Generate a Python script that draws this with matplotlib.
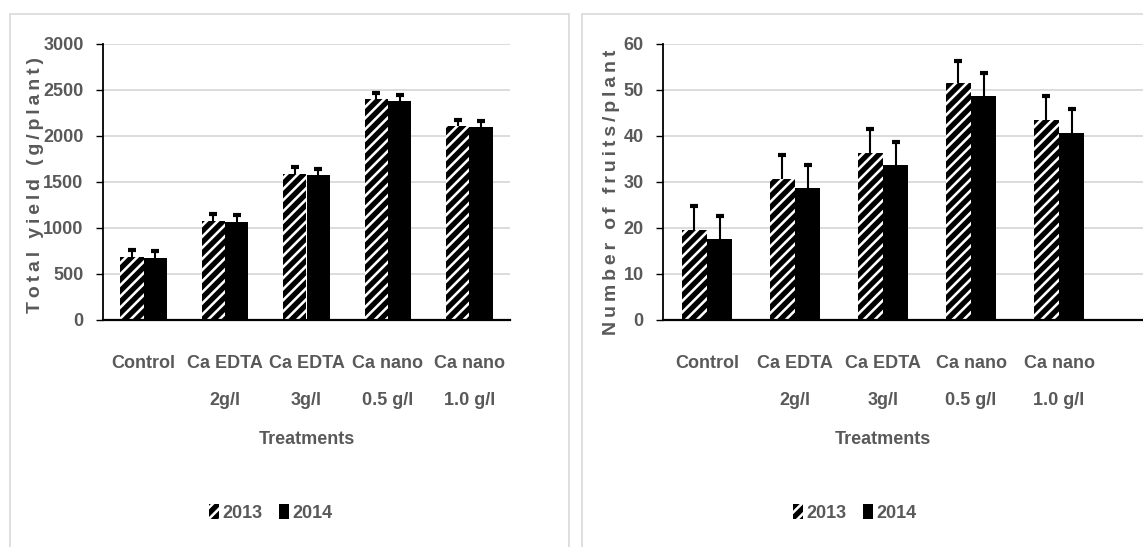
import matplotlib
matplotlib.use("Agg")
import matplotlib.pyplot as plt
from matplotlib.patches import Rectangle
import numpy as np

# Treatments and season values
treatments = ["Control", "Ca EDTA\n2g/l", "Ca EDTA\n3g/l", "Ca nano\n0.5 g/l", "Ca nano\n1.0 g/l"]
years = ["2013", "2014"]

yield_2013 = [690, 1080, 1590, 2400, 2105]
yield_2014 = [678, 1070, 1578, 2380, 2097]
yield_err_2013 = [75, 70, 70, 68, 72]
yield_err_2014 = [75, 72, 65, 68, 68]

fruits_2013 = [19.6, 30.6, 36.4, 51.5, 43.4]
fruits_2014 = [17.6, 28.6, 33.7, 48.7, 40.6]
fruits_err_2013 = [5.1, 5.2, 5.2, 4.9, 5.2]
fruits_err_2014 = [5.0, 5.1, 5.1, 5.1, 5.2]

TXT = "#595959"
GRID = "#d9d9d9"
FONT = ["Liberation Sans", "DejaVu Sans"]

plt.rcParams["font.family"] = FONT
plt.rcParams["font.weight"] = "bold"
plt.rcParams["hatch.linewidth"] = 3.8

W, H = 1143, 547
fig = plt.figure(figsize=(W / 100, H / 100), dpi=100)


def px_rect(x0, y0, x1, y1):
    return [x0 / W, 1 - y1 / H, (x1 - x0) / W, (y1 - y0) / H]


def spaced(s):
    # letter-spaced axis title: thin spaces between letters, wider gap between words
    return "\u2009 \u2009".join("\u2009".join(w) for w in s.split(" "))


# panel frames
for x0, x1 in [(10, 569), (582, 1160)]:
    fig.patches.append(Rectangle((x0 / W, -0.1), (x1 - x0) / W, 1 - 14 / H + 0.1,
                                 transform=fig.transFigure, fill=False,
                                 edgecolor=GRID, linewidth=1.2))


def panel(rect, v13, v14, e13, e14, ymax, ystep, ylabel, xmax, label_pos, legend_x):
    ax = fig.add_axes(rect)
    x = np.arange(len(treatments))
    bw = 0.2857
    v13 = np.asarray(v13)
    v14 = np.asarray(v14)
    e13 = np.asarray(e13)
    e14 = np.asarray(e14)
    ax.bar(x - bw / 2, v13, bw, color="white", edgecolor="black", hatch="///",
           linewidth=0, zorder=2, label=years[0])
    ax.bar(x + bw / 2, v14, bw, color="black", edgecolor="black",
           linewidth=0, zorder=2, label=years[1])
    # upper error bars with a cap on the top end only
    for xs, v, e in [(x - bw / 2, v13, e13), (x + bw / 2, v14, e14)]:
        ax.errorbar(xs, v, yerr=[np.zeros(len(xs)), e], fmt="none",
                    ecolor="black", elinewidth=1.5, capsize=0, zorder=3)
        ax.scatter(xs, v + e, marker="_", s=40, linewidths=3, color="black", zorder=3)

    ax.set_xlim(-0.5, xmax)
    ax.set_ylim(0, ymax)
    ax.set_yticks(np.arange(0, ymax + 1e-9, ystep))
    ax.yaxis.grid(True, color=GRID, linewidth=1.3, zorder=0)
    ax.set_axisbelow(True)
    for s in ["top", "right"]:
        ax.spines[s].set_visible(False)
    ax.spines["left"].set_linewidth(1.3)
    ax.spines["bottom"].set_linewidth(1.6)
    ax.spines["bottom"].set_zorder(4)

    ax.set_xticks(x)
    ax.set_xticklabels(treatments, fontsize=13, color=TXT, fontweight="bold",
                       linespacing=2.55, va="top")
    ax.tick_params(axis="x", length=0, pad=25)
    ax.tick_params(axis="y", length=5, width=1, color="black", pad=9,
                   labelsize=13, labelcolor=TXT)

    ax.text(2.0, -(440 - 320) / 276, "Treatments", transform=ax.get_xaxis_transform(),
            fontsize=13, color=TXT, fontweight="bold", ha="center", va="center")

    fig.text(label_pos[0] / W, 1 - label_pos[1] / H, spaced(ylabel), rotation=90,
             fontsize=14, color=TXT, fontweight="bold", ha="center", va="center")

    handles, labels = ax.get_legend_handles_labels()
    leg = fig.legend(handles, labels, loc="center", ncol=2, frameon=False,
                     bbox_to_anchor=(legend_x / W, 1 - 513 / H),
                     handlelength=0.55, handleheight=0.9, handletextpad=0.2,
                     columnspacing=0.9, prop={"size": 13, "weight": "bold"})
    for t in leg.get_texts():
        t.set_color(TXT)
    return ax


panel(px_rect(103, 44, 510, 320), yield_2013, yield_2014, yield_err_2013, yield_err_2014,
      3000, 500, "Total yield (g/plant)", 4.5, (36, 185), 271)
panel(px_rect(663, 44, 1143, 320), fruits_2013, fruits_2014, fruits_err_2013, fruits_err_2014,
      60, 10, "Number of fruits/plant", 4.5 + 40 / 88, (611, 192), 855)

fig.savefig("out.png", dpi=100, facecolor="white")
